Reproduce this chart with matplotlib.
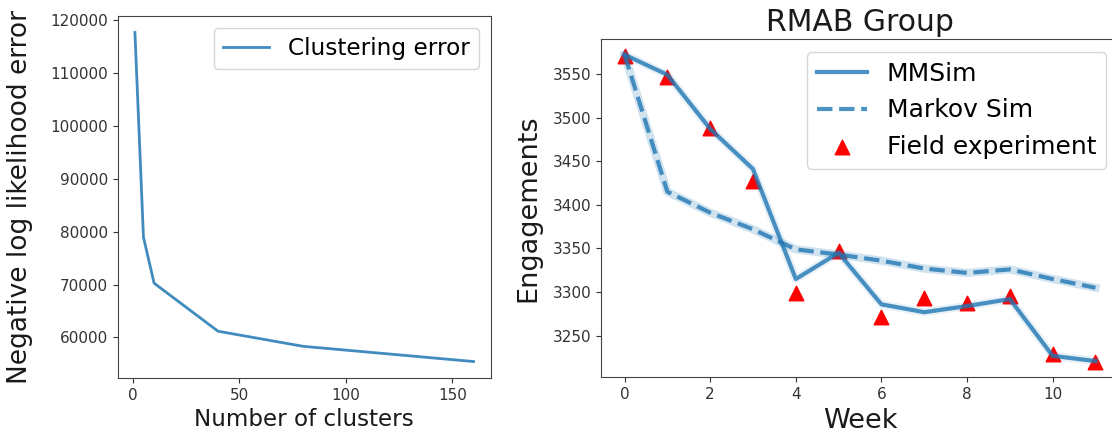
import matplotlib
matplotlib.use("Agg")
import matplotlib.pyplot as plt
import numpy as np

# Left panel data
n_clusters = [1, 5, 10, 40, 80, 160]
cluster_error = [117700, 78960, 70250, 61160, 58300, 55420]

# Right panel data
weeks = list(range(12))
mmsim = [3572, 3549, 3487, 3441, 3315, 3345, 3286, 3277, 3284, 3292, 3227, 3221]
markov_sim = [3572, 3415, 3391, 3372, 3349, 3343, 3336, 3327, 3322, 3326, 3315, 3305]
field_exp = [3570, 3546, 3488, 3427, 3299, 3347, 3272, 3293, 3287, 3296, 3229, 3220]

W, H = 1112, 437
fig = plt.figure(figsize=(W / 100, H / 100), dpi=100)

tick_color = "#333333"
spine_color = "#444444"
text_color = "#1a1a1a"
blue = "#1f77b4"

def px_axes(l, t, r, b):
    return fig.add_axes([l / W, 1 - b / H, (r - l) / W, (b - t) / H])

# ---------- Left panel ----------
ax1 = px_axes(118, 16, 490.5, 378)
ax1.plot(n_clusters, cluster_error, color=blue, lw=2, alpha=0.85, label="Clustering error")
ax1.set_xlabel("Number of clusters", fontsize=16.6, color=text_color)
ax1.set_ylabel("Negative log likelihood error", fontsize=19, color=text_color)
ax1.yaxis.set_label_coords((33 - 118) / 372.5, 0.5)
ax1.legend(loc="upper right", fontsize=16.7)
ax1.set_xticks([0, 50, 100, 150])
ax1.set_yticks([60000, 70000, 80000, 90000, 100000, 110000, 120000])

# ---------- Right panel ----------
ax2 = px_axes(601, 39.3, 1119, 377.3)
sc = ax2.scatter(weeks, field_exp, marker="^", s=110, color="red", zorder=1.5,
                 label="Field experiment")
ax2.plot(weeks, mmsim, color=blue, lw=6, alpha=0.1, zorder=1.8)
ax2.plot(weeks, markov_sim, color=blue, lw=6, alpha=0.2, zorder=1.8)
l1, = ax2.plot(weeks, mmsim, color=blue, lw=3, alpha=0.8, label="MMSim", zorder=2)
l2, = ax2.plot(weeks, markov_sim, color=blue, lw=3, alpha=0.8, ls="--",
               label="Markov Sim", zorder=2)
ax2.set_title("RMAB Group", fontsize=21.5, color=text_color)
ax2.set_xlabel("Week", fontsize=19.5, color=text_color)
ax2.set_ylabel("Engagements", fontsize=19.5, color=text_color)
ax2.yaxis.set_label_coords((541 - 601) / 518, 0.5)
ax2.set_xticks([0, 2, 4, 6, 8, 10])
ax2.set_yticks([3250, 3300, 3350, 3400, 3450, 3500, 3550])
ax2.legend(handles=[l1, l2, sc], loc="upper right", fontsize=18)

for ax in (ax1, ax2):
    ax.tick_params(labelsize=11, colors=tick_color)
    for s in ax.spines.values():
        s.set_color(spine_color)

fig.savefig("out.png", dpi=100)
